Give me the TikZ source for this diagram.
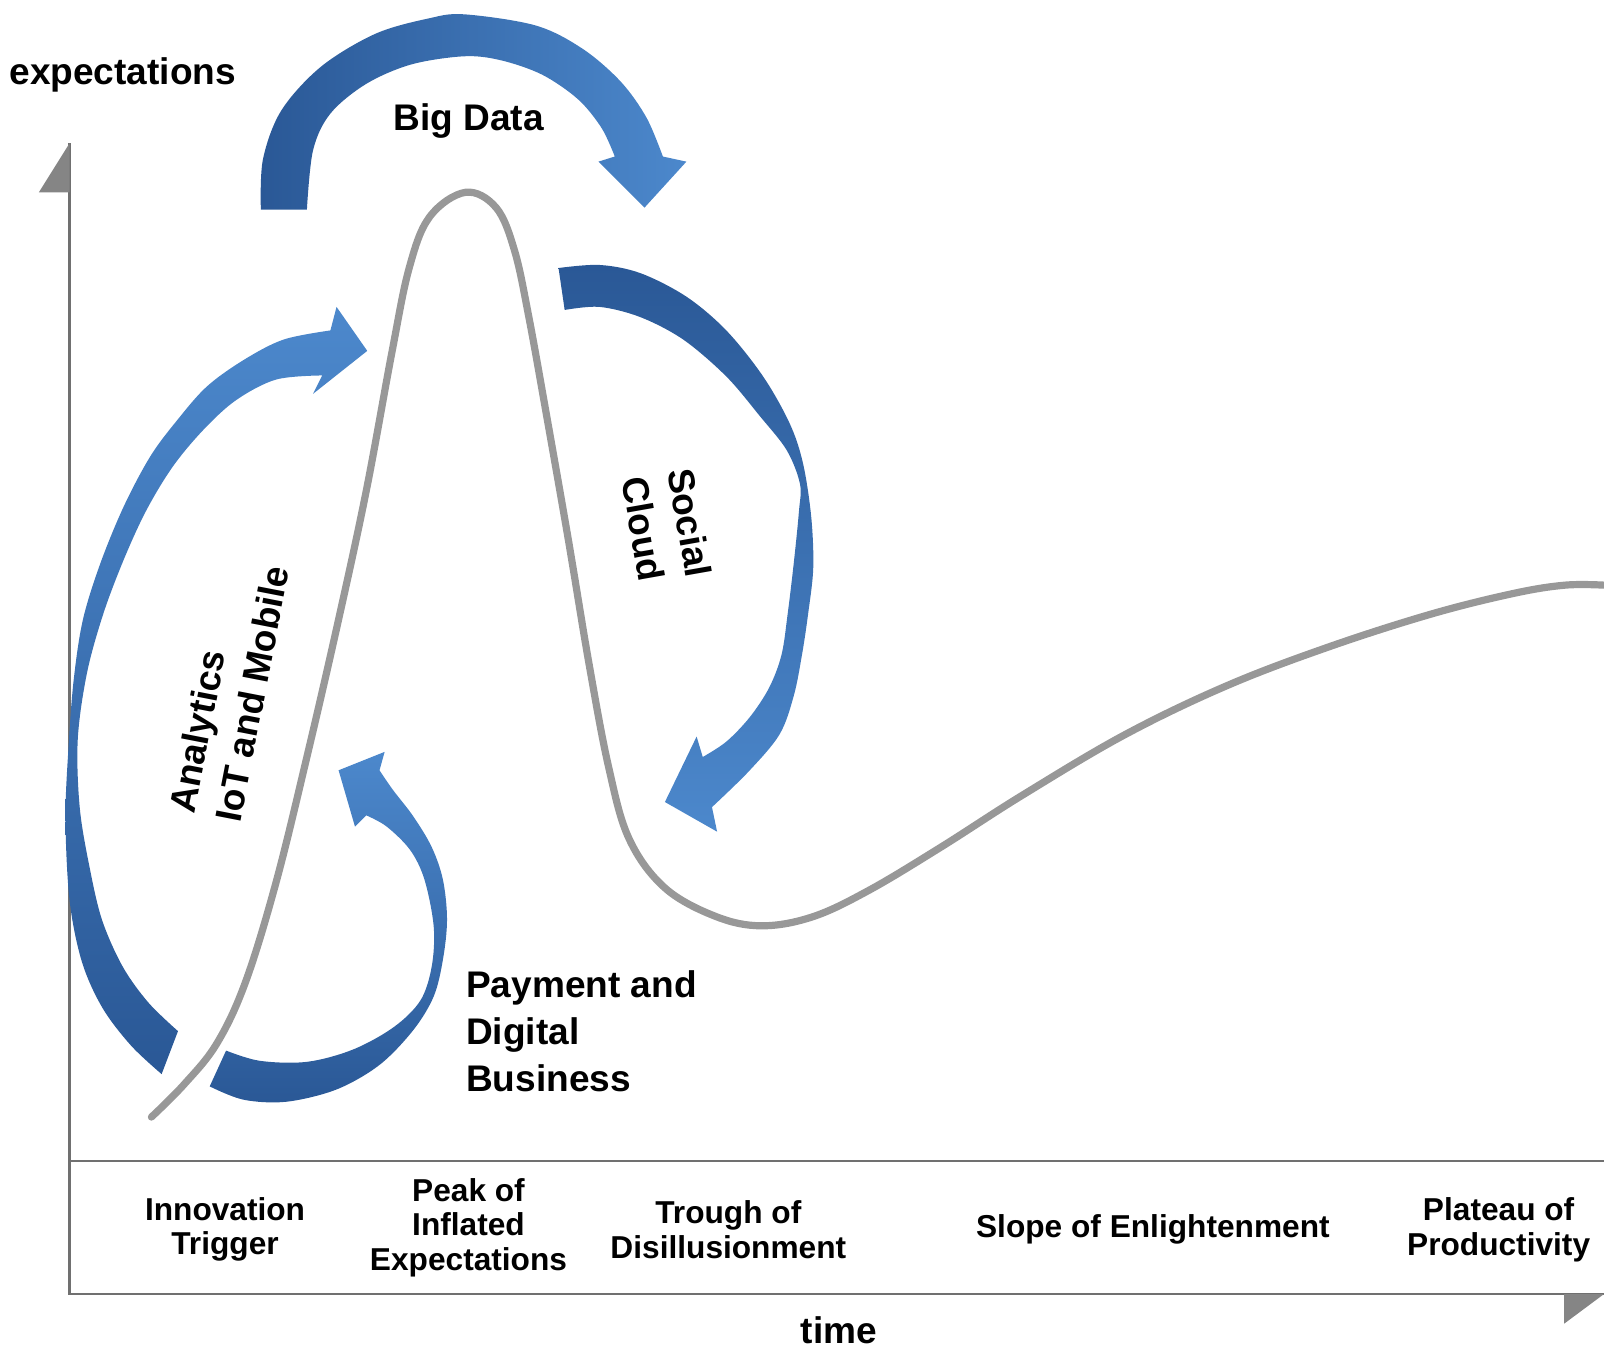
\documentclass[tikz,border=0pt]{standalone}
\usepackage{fontspec}
\setmainfont{Liberation Sans}
\definecolor{blueD}{RGB}{42,88,150}
\definecolor{blueL}{RGB}{76,136,204}
\definecolor{curvegray}{RGB}{152,152,152}
\definecolor{axisgray}{RGB}{112,112,112}

\begin{document}
\begin{tikzpicture}[
    x=0.01cm, y=-0.01cm, % pixel grid of the chart, y downwards
    lbl/.style={font=\fontsize{10.3}{13}\selectfont\bfseries, inner sep=0pt},
    phase/.style={font=\fontsize{8.8}{9.6}\selectfont\bfseries, align=center, inner sep=0pt},
    axis/.style={draw=axisgray, line width=0.75pt},
    hype/.style={draw=curvegray, line width=2pt, line cap=round},
    tip/.style={fill=axisgray!85}
]
\useasboundingbox (0,0) rectangle (1568,1317);

% Axes and phase strip
\coordinate (o) at (68,1265);
\coordinate (ytop) at (68,140);
\coordinate (xend) at (1568,1265);
\coordinate (sepL) at (68,1135);
\coordinate (sepR) at (1568,1135);
\draw[axis] (ytop) -- (o) -- (xend);
\draw[axis] (sepL) -- (sepR);
\fill[tip] (ytop) -- (38,188) -- (68,188) -- cycle;
\fill[tip] (1529,1265) -- (xend) -- (1529,1294) -- cycle;

% Blue arrows
% Big Data
\shade[left color=blueD, right color=blueL]
    plot[smooth, tension=0.55] coordinates {(255,205) (257,156) (275,108) (314,65) (367,33) (419,18) (454,14) (524,25) (570,48) (607,80) (632,115) (648,153)}
    -- (671,158) -- (630,203) -- (585,158) --
    plot[smooth, tension=0.55] coordinates {(601,153) (588,125) (565,97) (530,73) (490,59) (454,55) (402,63) (358,82) (323,111) (306,147) (300,205)}
    -- cycle;
% Social Cloud
\shade[top color=blueD, bottom color=blueL]
    plot[smooth, tension=0.55] coordinates {(546,262) (586,259) (626,267) (671,290) (710,323) (746,368) (772,414) (785,453) (793,505) (795,555) (790,600) (784,640) (776,680) (762,718) (732,754) (696,789)}
    -- (701,813) -- (650,784) -- (681,720) --
    plot[smooth, tension=0.55] coordinates {(687,740) (710,725) (733,701) (752,672) (764,640) (770,600) (776,550) (781,500) (782,473) (769,440) (743,407) (710,368) (668,332) (626,310) (586,300) (552,303)}
    -- cycle;
% Analytics, IoT and Mobile
\shade[top color=blueL, bottom color=blueD]
    plot[smooth, tension=0.55] coordinates {(158,1050) (128,1022) (100,985) (80,940) (68,880) (64,800) (67,730) (72,665) (81,606) (98,551) (121,495) (147,446) (173,411) (202,378) (238,352) (277,332) (323,323)}
    -- (329,300) -- (359,343) -- (306,385) --
    plot[smooth, tension=0.55] coordinates {(315,367) (270,371) (231,391) (199,420) (169,456) (143,499) (121,547) (101,600) (85,658) (76,723) (78,790) (88,850) (100,900) (120,945) (145,980) (174,1008)}
    -- cycle;
% Payment and Digital Business
\shade[top color=blueL, bottom color=blueD]
    plot[smooth, tension=0.55] coordinates {(205,1062) (238,1075) (280,1077) (329,1065) (371,1041) (404,1007) (424,974) (433,938) (437,899) (433,860) (422,828) (404,798) (384,772) (371,753)}
    -- (376,735) -- (331,753) -- (347,808) --
    plot[smooth, tension=0.55] coordinates {(358,797) (378,808) (401,831) (415,860) (424,906) (422,945) (411,978) (385,1004) (345,1026) (300,1038) (254,1037) (221,1027)}
    -- cycle;

% Hype curve
\draw[hype] plot[smooth, tension=0.6] coordinates {(148,1092) (180,1060) (212,1020) (240,960) (270,862) (300,740) (330,610) (358,480) (383,345) (400,262) (420,212) (455,188) (485,203) (503,245) (517,310) (535,410) (556,530) (576,650) (595,750) (615,820) (650,868) (700,896) (745,905) (795,896) (850,870) (920,828) (1000,777) (1100,718) (1200,670) (1300,632) (1400,600) (1480,580) (1530,572) (1568,572)};

% Labels
\node[lbl] (ylab) at (120,73) {expectations};
\node[lbl] (xlab) at (820,1300) {time};
\node[lbl] (bigdata) at (458,118) {Big Data};
\node[lbl, rotate=-80, align=left] (social) at (652,515) {Social\\Cloud};
\node[lbl, rotate=79, align=left] (analytics) at (224,674) {Analytics\\IoT and Mobile};
\node[lbl, align=left, anchor=west] (payment) at (455,1008) {Payment and\\Digital\\Business};

% Phases
\node[phase] (ph1) at (220,1202) {Innovation\\Trigger};
\node[phase] (ph2) at (458,1200) {Peak of\\Inflated\\Expectations};
\node[phase] (ph3) at (712,1202) {Trough of\\Disillusionment};
\node[phase] (ph4) at (1127,1202) {Slope of Enlightenment};
\node[phase] (ph5) at (1465,1202) {Plateau of\\Productivity};

\end{tikzpicture}
\end{document}
